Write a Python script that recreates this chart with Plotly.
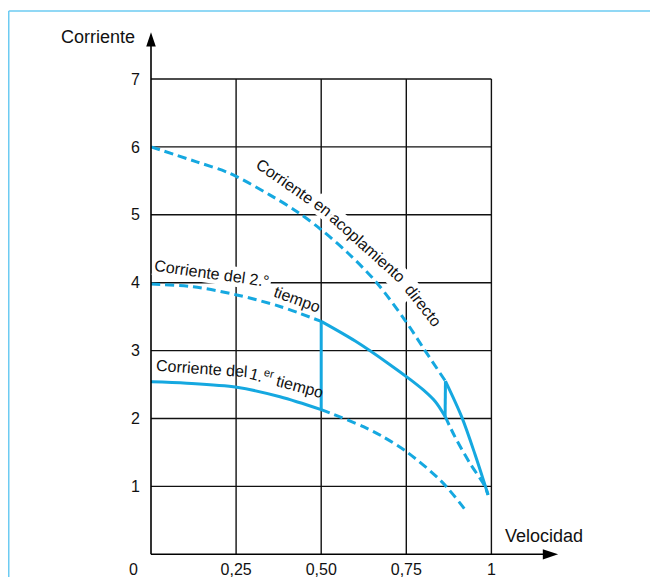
import plotly.graph_objects as go

# ---------------- data ----------------
x_ticks = [0.25, 0.5, 0.75, 1.0]
x_ticktext = ["0,25", "0,50", "0,75", "1"]
y_ticks = [1, 2, 3, 4, 5, 6, 7]

# direct coupling current (dashed part)
direct_x = [0.0, 0.134, 0.232, 0.35, 0.428, 0.5, 0.58, 0.663, 0.75, 0.805, 0.865]
direct_y = [6.0, 5.78, 5.61, 5.29, 5.05, 4.78, 4.43, 4.0, 3.42, 3.0, 2.55]
# direct coupling current (solid, final stage)
direct_solid_x = [0.865, 0.913, 0.952, 0.99]
direct_solid_y = [2.55, 2.02, 1.47, 0.88]

# 2nd-step current
second_dash_x = [0.0, 0.124, 0.252, 0.379, 0.5]
second_dash_y = [3.98, 3.94, 3.82, 3.65, 3.43]
second_solid_x = [0.5, 0.6, 0.7, 0.76, 0.8, 0.835, 0.864]
second_solid_y = [3.43, 3.14, 2.80, 2.58, 2.42, 2.25, 2.03]
second_tail_x = [0.864, 0.893, 0.937, 0.981, 0.99]
second_tail_y = [2.03, 1.73, 1.34, 1.0, 0.87]

# 1st-step current
first_solid_x = [0.0, 0.105, 0.252, 0.379, 0.5]
first_solid_y = [2.54, 2.52, 2.46, 2.32, 2.13]
first_tail_x = [0.5, 0.526, 0.624, 0.682, 0.751, 0.854, 0.927]
first_tail_y = [2.13, 2.08, 1.88, 1.73, 1.51, 1.07, 0.63]

# curve labels: text, x, y, angle, mask gridlines behind it
labels = [
    ("Corriente", 0.394, 5.49, 35, False),
    ("en", 0.505, 5.105, 38, True),
    ("acoplamiento", 0.636, 4.52, 42, True),
    ("directo", 0.799, 3.66, 52, True),
    ("Corriente del 2.°", 0.18, 4.14, 8, True),
    ("tiempo", 0.43, 3.75, 20, False),
    ("Corriente del", 0.151, 2.73, 4, False),
    ("1.<sup>er</sup> tiempo", 0.40, 2.54, 15, False),
]
# extra white mask where two rotated words meet
junction_masks = [("ooo", 0.740, 3.966, 47)]

BLUE = "#15A8E0"
FRAME = "#6DCBF2"
FONT = "Liberation Sans, Arial, sans-serif"

X_MAX_GRID = 1.0
Y_MAX_GRID = 7
X_ARROW = 1.196
Y_ARROW = 7.69

fig = go.Figure()

def add_line(x, y, dash=None, shape="spline"):
    fig.add_trace(go.Scatter(x=x, y=y, mode="lines",
                             line=dict(color=BLUE, width=3, dash=dash, shape=shape, smoothing=0.9),
                             hoverinfo="skip", showlegend=False))

dash = "9px,5px"
add_line(direct_x, direct_y, dash)
add_line(second_dash_x, second_dash_y, dash)
add_line(second_tail_x, second_tail_y, dash)
add_line(first_tail_x, first_tail_y, dash)
add_line(first_solid_x, first_solid_y)
add_line(second_solid_x, second_solid_y)
add_line(direct_solid_x, direct_solid_y)
# vertical switching steps
add_line([first_solid_x[-1], second_solid_x[0], None, second_solid_x[-1], direct_solid_x[0]],
         [first_solid_y[-1], second_solid_y[0], None, second_solid_y[-1], direct_solid_y[0]],
         shape="linear")

shapes = []
# grid lines
for xv in x_ticks:
    shapes.append(dict(type="line", xref="x", yref="y", x0=xv, x1=xv, y0=0, y1=Y_MAX_GRID,
                       line=dict(color="#111111", width=1.4), layer="below"))
for yv in y_ticks:
    shapes.append(dict(type="line", xref="x", yref="y", x0=0, x1=X_MAX_GRID, y0=yv, y1=yv,
                       line=dict(color="#111111", width=1.4), layer="below"))
# axes
shapes.append(dict(type="line", xref="x", yref="y", x0=0, x1=X_ARROW - 0.03, y0=0, y1=0,
                   line=dict(color="black", width=1.6)))
shapes.append(dict(type="line", xref="x", yref="y", x0=0, x1=0, y0=0, y1=Y_ARROW - 0.15,
                   line=dict(color="black", width=1.6)))
# arrow heads
ax_len, ax_half = 0.045, 0.075
shapes.append(dict(type="path", xref="x", yref="y",
                   path=f"M {X_ARROW},0 L {X_ARROW-ax_len},{ax_half} L {X_ARROW-ax_len},{-ax_half} Z",
                   fillcolor="black", line=dict(color="black", width=0)))
ay_len, ay_half = 0.21, 0.014
shapes.append(dict(type="path", xref="x", yref="y",
                   path=f"M 0,{Y_ARROW} L {ay_half},{Y_ARROW-ay_len} L {-ay_half},{Y_ARROW-ay_len} Z",
                   fillcolor="black", line=dict(color="black", width=0)))

# figure geometry (figure pixels; the page adds an 8px body margin)
W, H = 650, 569
L, R, T, B = 134, 92, 20, 17
pw, ph = W - L - R, H - T - B
ORIGIN_X, ORIGIN_Y = 143.0, 546.3
sx, sy = 340.4, 67.9

# outer frame (left and top edges)
fx = (0.75 - L) / pw
fy = (H - 3 - B) / ph
shapes.append(dict(type="line", xref="paper", yref="paper", x0=fx, x1=fx, y0=-B / ph - 0.01, y1=fy,
                   line=dict(color=FRAME, width=1.5)))
shapes.append(dict(type="line", xref="paper", yref="paper", x0=fx, x1=(W - L) / pw + 0.01, y0=fy, y1=fy,
                   line=dict(color=FRAME, width=1.5)))

ann = []
# white masks first (break the grid lines behind some labels), then the texts
mask_list = [(t, x, y, a) for t, x, y, a, m in labels if m] + junction_masks
for text, x, y, angle in mask_list:
    ann.append(dict(text=text, x=x, y=y, xref="x", yref="y", showarrow=False, textangle=angle,
                    font=dict(family=FONT, size=16, color="rgba(0,0,0,0)"),
                    bgcolor="white", borderpad=1, xanchor="center", yanchor="middle"))
for text, x, y, angle, mask in labels:
    ann.append(dict(text=text, x=x, y=y, xref="x", yref="y", showarrow=False, textangle=angle,
                    font=dict(family=FONT, size=16, color="#111111"),
                    xanchor="center", yanchor="middle"))

ann.append(dict(text="Corriente", x=0, y=7.62, xref="x", yref="y", showarrow=False,
                xanchor="right", yanchor="middle", xshift=-14,
                font=dict(family=FONT, size=18, color="#111111")))
ann.append(dict(text="Velocidad", x=1.034, y=0.27, xref="x", yref="y", showarrow=False,
                xanchor="left", yanchor="middle",
                font=dict(family=FONT, size=18, color="#111111")))
ann.append(dict(text="0", x=0, y=0, xref="x", yref="y", showarrow=False,
                xanchor="center", yanchor="middle", xshift=-18, yshift=-15,
                font=dict(family=FONT, size=16, color="#111111")))

x0 = (L - ORIGIN_X) / sx
x1 = x0 + pw / sx
y0 = -(H - B - ORIGIN_Y) / sy
y1 = y0 + ph / sy

fig.update_layout(
    width=W, height=H,
    margin=dict(l=L, r=R, t=T, b=B, autoexpand=False),
    paper_bgcolor="white", plot_bgcolor="white",
    shapes=shapes, annotations=ann,
    xaxis=dict(range=[x0, x1], tickvals=x_ticks, ticktext=x_ticktext, showgrid=False,
               zeroline=False, showline=False, ticks="", automargin=False,
               tickfont=dict(family=FONT, size=16, color="#111111"), ticklabelstandoff=-2),
    yaxis=dict(range=[y0, y1], tickvals=y_ticks, showgrid=False, zeroline=False,
               showline=False, ticks="", automargin=False,
               tickfont=dict(family=FONT, size=16, color="#111111"), ticklabelstandoff=1),
    showlegend=False,
)

fig.write_html("out.html")
